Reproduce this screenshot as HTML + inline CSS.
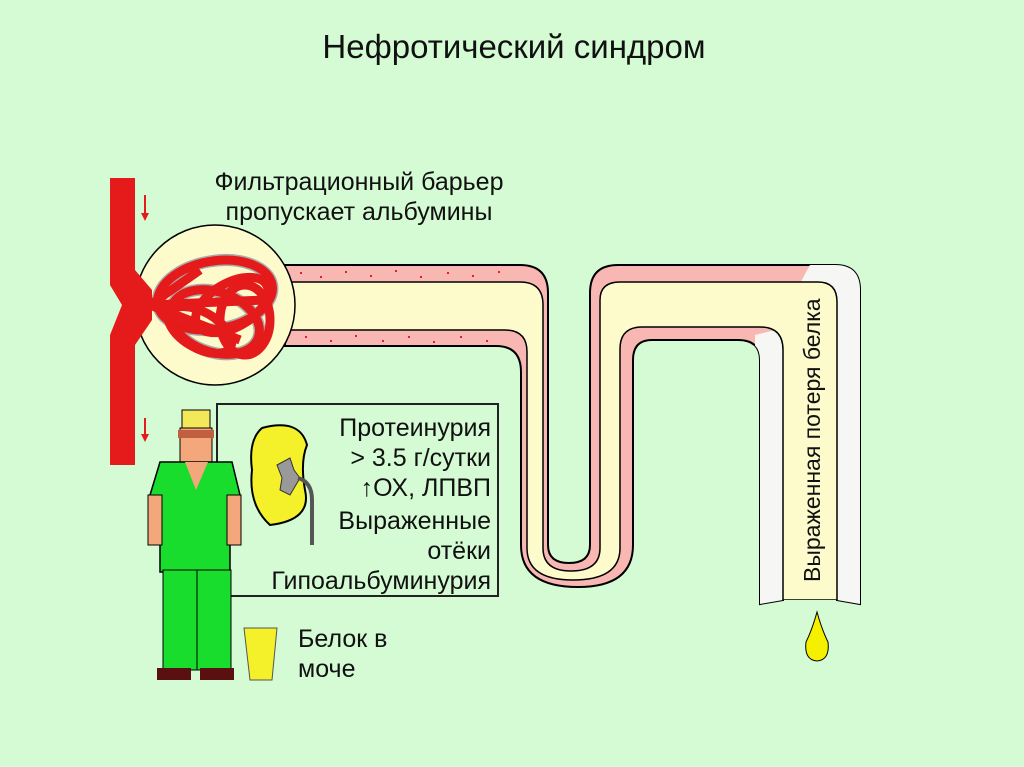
<!DOCTYPE html>
<html><head><meta charset="utf-8"><style>
html,body{margin:0;padding:0;background:#d5fbd4;}
svg{display:block}
text{font-family:"Liberation Sans",sans-serif;fill:#111}
</style></head><body>
<svg width="1024" height="767" viewBox="0 0 1024 767" xmlns="http://www.w3.org/2000/svg">
<rect width="1024" height="767" fill="#d5fbd4"/>
<text x="514" y="58" font-size="33" text-anchor="middle">Нефротический синдром</text>
<text x="359" y="190" font-size="25" text-anchor="middle">Фильтрационный барьер</text>
<text x="359" y="220" font-size="25" text-anchor="middle">пропускает альбумины</text>
<defs>
<path id="outer" d="M285,265 L520,265 Q548,265 548,293 L548,545 Q548,563 569,563 Q590,563 590,545 L590,293 Q590,265 618,265 L835,265 Q860,265 860,290 L860,604 L837,600 L783,600 L760,604 L760,360 Q760,340 738,340 L652,340 Q633,340 633,360 L633,545 Q633,587 578,587 Q521,587 521,545 L521,372 Q521,346 496,346 L285,346 Z"/>
<path id="lumen" d="M285,282 L520,282 Q543,282 543,305 L543,548 Q543,571 571,571 Q600,571 600,548 L600,300 Q600,282 620,282 L818,282 Q837,282 837,302 L837,600 L783,600 L783,350 Q783,327 760,327 L642,327 Q620,327 620,349 L620,548 Q620,580 573,580 Q527,580 527,548 L527,352 Q527,330 505,330 L285,330 Z"/>
<clipPath id="cw"><polygon points="818,250 900,250 900,620 755,620 755,335 775,330"/></clipPath>
</defs>
<use href="#outer" fill="#f9b7b4" stroke="#000" stroke-width="2"/>
<use href="#outer" fill="#f6f6f4" clip-path="url(#cw)"/>
<use href="#lumen" fill="#fdfbcc" stroke="#000" stroke-width="1.5"/>
<rect x="784" y="600" width="52" height="4" fill="#d5fbd4"/>
<g fill="#e0202a">
<rect x="300" y="272" width="2" height="2"/><rect x="320" y="276" width="2" height="2"/><rect x="345" y="271" width="2" height="2"/><rect x="370" y="275" width="2" height="2"/><rect x="395" y="270" width="2" height="2"/><rect x="420" y="276" width="2" height="2"/><rect x="447" y="272" width="2" height="2"/><rect x="472" y="275" width="2" height="2"/><rect x="498" y="271" width="2" height="2"/>
<rect x="305" y="336" width="2" height="2"/><rect x="330" y="340" width="2" height="2"/><rect x="355" y="335" width="2" height="2"/><rect x="382" y="340" width="2" height="2"/><rect x="408" y="336" width="2" height="2"/><rect x="433" y="341" width="2" height="2"/><rect x="460" y="336" width="2" height="2"/><rect x="486" y="340" width="2" height="2"/>
</g>
<circle cx="215" cy="305" r="80" fill="#fdfbcc" stroke="#000" stroke-width="1.5"/>
<g fill="none" stroke="#aaa" stroke-width="12">
<ellipse cx="215" cy="295" rx="58" ry="34" transform="rotate(-10 215 295)"/>
<ellipse cx="215" cy="322" rx="46" ry="30" transform="rotate(20 215 322)"/>
</g>
<g fill="none" stroke="#e51b1b" stroke-width="9">
<ellipse cx="215" cy="295" rx="58" ry="34" transform="rotate(-10 215 295)"/>
<ellipse cx="215" cy="322" rx="46" ry="30" transform="rotate(20 215 322)"/>
<ellipse cx="232" cy="305" rx="40" ry="22" transform="rotate(-30 232 305)"/>
<ellipse cx="200" cy="330" rx="35" ry="18" transform="rotate(30 200 330)"/>
<ellipse cx="245" cy="320" rx="25" ry="35"/>
<path d="M150,305 L265,300 M150,305 L240,340 M150,305 L200,270"/>
</g>
<polygon points="110,178 135,178 135,270 152,290 152,320 135,345 135,465 110,465 110,335 122,305 110,285" fill="#e51b1b"/>
<g stroke="#e51b1b" stroke-width="2" fill="#e51b1b">
<line x1="145" y1="195" x2="145" y2="215"/><polygon points="141,213 149,213 145,221" stroke="none"/>
<line x1="145" y1="418" x2="145" y2="436"/><polygon points="141,434 149,434 145,442" stroke="none"/>
</g>
<rect x="217" y="404" width="281" height="192" fill="none" stroke="#222" stroke-width="2"/>
<g font-size="25" text-anchor="end">
<text x="491" y="436">Протеинурия</text>
<text x="491" y="466">&gt; 3.5 г/сутки</text>
<text x="491" y="496">↑ОХ, ЛПВП</text>
<text x="491" y="529">Выраженные</text>
<text x="491" y="559">отёки</text>
<text x="491" y="589">Гипоальбуминурия</text>
</g>
<path d="M262,428 Q300,418 307,445 Q300,462 305,490 Q312,520 270,525 Q248,505 252,470 Q248,440 262,428 Z" fill="#f4f02a" stroke="#000" stroke-width="2"/>
<path d="M277,465 L290,458 L294,470 L300,478 L290,495 L280,490 L282,478 Z" fill="#999" stroke="#333"/>
<path d="M298,478 Q312,482 312,500 L312,545" fill="none" stroke="#555" stroke-width="4"/>
<!-- man -->
<rect x="182" y="410" width="28" height="20" fill="#f3e75a" stroke="#000"/>
<rect x="180" y="428" width="32" height="42" fill="#f4a77a" stroke="#000"/>
<rect x="178" y="430" width="36" height="8" fill="#c06040"/>
<polygon points="160,462 232,462 240,495 230,505 230,572 160,572 160,505 150,495" fill="#19dd2c" stroke="#000" stroke-width="1.5"/>
<polygon points="185,462 208,462 196,490" fill="#f4a77a"/>
<rect x="148" y="495" width="14" height="50" fill="#f4a77a" stroke="#000"/>
<rect x="227" y="495" width="14" height="50" fill="#f4a77a" stroke="#000"/>
<rect x="163" y="570" width="34" height="100" fill="#19dd2c" stroke="#000"/>
<rect x="197" y="570" width="34" height="100" fill="#19dd2c" stroke="#000"/>
<rect x="157" y="668" width="34" height="12" fill="#5a1010"/>
<rect x="200" y="668" width="34" height="12" fill="#5a1010"/>
<polygon points="244,628 277,628 272,680 250,680" fill="#f4f02a" stroke="#555"/>
<text x="298" y="647" font-size="25">Белок в</text>
<text x="298" y="677" font-size="25">моче</text>
<text transform="translate(820,582) rotate(-90)" font-size="23">Выраженная потеря белка</text>
<path d="M817,612 Q812,630 806,642 Q804,660 817,661 Q830,660 828,642 Q822,630 817,612 Z" fill="#f4f000" stroke="#000"/>
</svg>
</body></html>
